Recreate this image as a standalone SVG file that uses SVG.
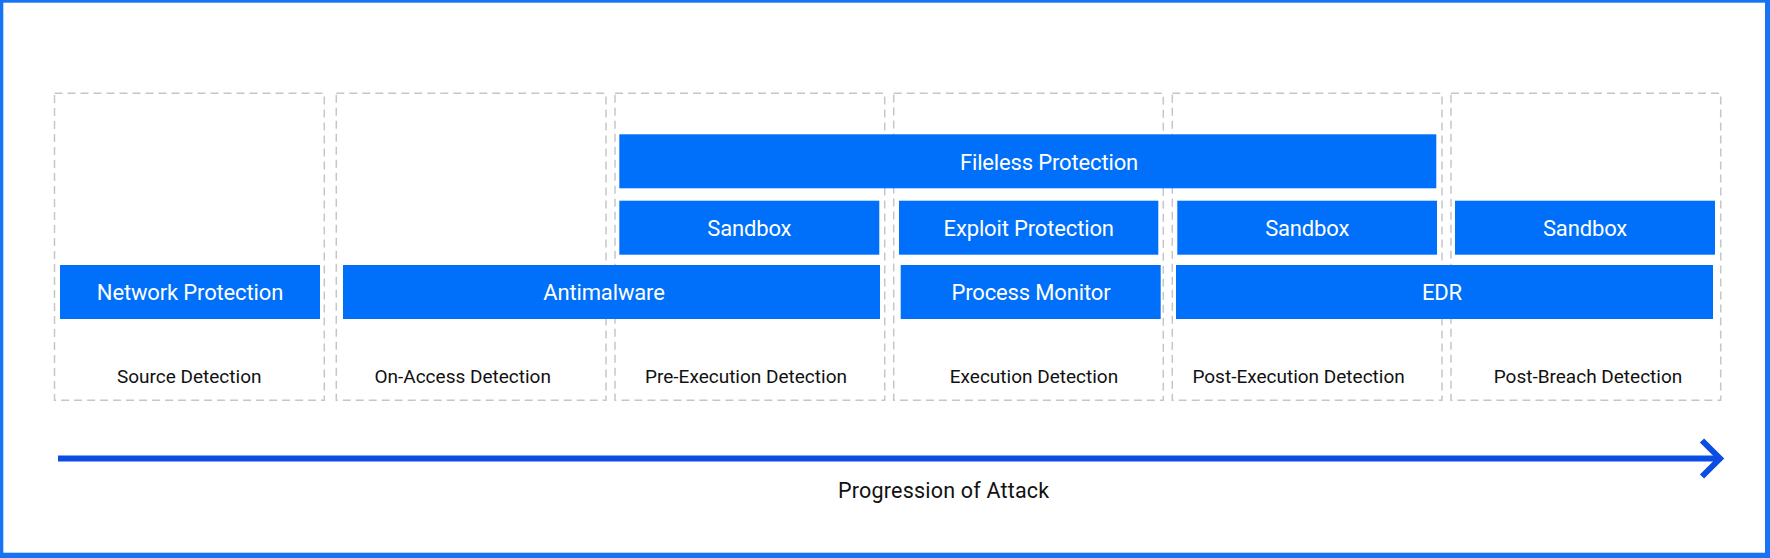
<svg xmlns="http://www.w3.org/2000/svg" width="1770" height="558" viewBox="0 0 1770 558">
<defs>
<style>
.stage{fill:none;stroke:#c6c6c6;stroke-width:1.5;stroke-dasharray:8 5}
.bar{fill:#0070fa}
.bt{font-family:Roboto,"Liberation Sans",sans-serif;font-size:22px;letter-spacing:-0.15px;fill:#ffffff;text-anchor:middle}
.lt{font-family:Roboto,"Liberation Sans",sans-serif;font-size:19px;fill:#111111;text-anchor:middle}
.pt{font-family:Roboto,"Liberation Sans",sans-serif;font-size:21.5px;letter-spacing:0.2px;fill:#111111;text-anchor:middle}
.arrow{fill:none;stroke:#0b4de3;stroke-width:6}
</style>
</defs>
<rect x="0" y="0" width="1770" height="558" fill="#1673f3"/>
<rect x="3.3" y="2.7" width="1761.7" height="550" fill="#ffffff"/>

<g id="stage-source"><rect class="stage" x="54.5" y="93.3" width="269.8" height="307"/><text class="lt" x="189.2" y="382.7">Source Detection</text></g>
<g id="stage-onaccess"><rect class="stage" x="336.3" y="93.3" width="269.7" height="307"/><text class="lt" x="462.7" y="382.7">On-Access Detection</text></g>
<g id="stage-preexec"><rect class="stage" x="615" y="93.3" width="269.7" height="307"/><text class="lt" x="746" y="382.7">Pre-Execution Detection</text></g>
<g id="stage-exec"><rect class="stage" x="893.7" y="93.3" width="269.6" height="307"/><text class="lt" x="1034" y="382.7">Execution Detection</text></g>
<g id="stage-postexec"><rect class="stage" x="1172.3" y="93.3" width="269.7" height="307"/><text class="lt" x="1298.6" y="382.7">Post-Execution Detection</text></g>
<g id="stage-postbreach"><rect class="stage" x="1451" y="93.3" width="269.7" height="307"/><text class="lt" x="1588" y="382.7">Post-Breach Detection</text></g>

<g id="fileless"><rect class="bar" x="619.3" y="134.3" width="817" height="54"/><text class="bt" x="1049" y="169.5">Fileless Protection</text></g>
<g id="sandbox-1"><rect class="bar" x="619.3" y="200.7" width="260" height="54"/><text class="bt" x="749.3" y="235.8">Sandbox</text></g>
<g id="exploit"><rect class="bar" x="899" y="200.7" width="259.3" height="54"/><text class="bt" x="1028.7" y="235.8">Exploit Protection</text></g>
<g id="sandbox-2"><rect class="bar" x="1177.3" y="200.7" width="259.7" height="54"/><text class="bt" x="1307.2" y="235.8">Sandbox</text></g>
<g id="sandbox-3"><rect class="bar" x="1455" y="200.7" width="260" height="54"/><text class="bt" x="1585" y="235.8">Sandbox</text></g>
<g id="network"><rect class="bar" x="60" y="265" width="260" height="54"/><text class="bt" x="190" y="300.3">Network Protection</text></g>
<g id="antimalware"><rect class="bar" x="343" y="265" width="537" height="54"/><text class="bt" x="604" y="300.3">Antimalware</text></g>
<g id="process"><rect class="bar" x="900.7" y="265" width="260" height="54"/><text class="bt" x="1031" y="300.3">Process Monitor</text></g>
<g id="edr"><rect class="bar" x="1176" y="265" width="537" height="54"/><text class="bt" x="1442" y="300.3">EDR</text></g>

<g id="connectors">
<line class="arrow" x1="58" y1="458.5" x2="1720" y2="458.5"/>
<polyline class="arrow" points="1702,440.5 1720,458.5 1702,476.5"/>
</g>
<text class="pt" x="943.7" y="497.7">Progression of Attack</text>
</svg>
